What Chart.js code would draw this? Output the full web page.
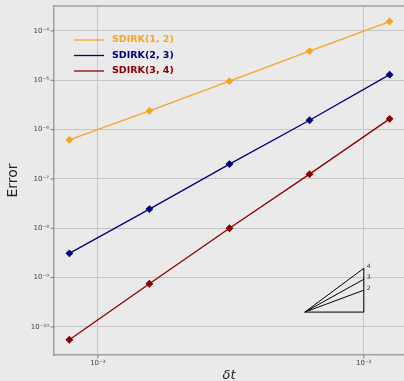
<!DOCTYPE html>
<html><head><meta charset="utf-8">
<script src="https://cdn.jsdelivr.net/npm/chart.js@4/dist/chart.umd.min.js"></script>
<style>html,body{margin:0;padding:0;background:#eaeaea;overflow:hidden}#wrap{width:404px;height:381px;position:relative}</style>
</head><body><div id="wrap"><canvas id="c" width="404" height="381"></canvas></div>
<script>
const dt = [1/1280, 1/640, 1/320, 1/160, 1/80];
const err12 = [6.2e-7, 2.4e-6, 9.6e-6, 3.9e-5, 1.55e-4];
const err23 = [3.1e-9, 2.45e-8, 2.0e-7, 1.55e-6, 1.3e-5];
const err34 = [5.5e-11, 7.5e-10, 1.0e-8, 1.25e-7, 1.65e-6];
const seriesNames = ['SDIRK(1, 2)', 'SDIRK(2, 3)', 'SDIRK(3, 4)'];
const seriesColors = ['#f5a623', '#000080', '#8b0000'];
const xMajorTicks = [1e-3, 1e-2];
const xMajorLabels = ['10\u207B\u00B3', '10\u207B\u00B2'];
const yMajorTicks = [1e-10, 1e-9, 1e-8, 1e-7, 1e-6, 1e-5, 1e-4];
const yMajorLabels = ['10\u207B\u00B9\u2070', '10\u207B\u2079', '10\u207B\u2078', '10\u207B\u2077', '10\u207B\u2076', '10\u207B\u2075', '10\u207B\u2074'];
const triX = [6e-3, 1e-2];
const triBase = 2e-10;
const triOrders = [2, 3, 4];

const FONT = "'DejaVu Sans', sans-serif";
const allSeries = [err12, err23, err34];

const datasets = allSeries.map((s, i) => ({
  label: seriesNames[i],
  data: dt.map((x, k) => ({x: x, y: s[k]})),
  borderColor: seriesColors[i],
  backgroundColor: seriesColors[i],
  borderWidth: 1.3,
  pointStyle: 'rectRot',
  pointRadius: 3,
  pointHoverRadius: 3,
  pointBackgroundColor: seriesColors[i],
  pointBorderColor: seriesColors[i],
  tension: 0
}));
const triTop = p => triBase * Math.pow(triX[1] / triX[0], p);
const triStyle = {borderColor: '#000', borderWidth: 1, pointRadius: 0, tri: true, clip: false};
triOrders.forEach(p => datasets.push(Object.assign({label: 'tri' + p, data: [{x: triX[0], y: triBase}, {x: triX[1], y: triTop(p)}]}, triStyle)));
const maxP = Math.max(...triOrders);
datasets.push(Object.assign({label: 'triV', data: [{x: triX[1], y: triBase}, {x: triX[1], y: triTop(maxP)}]}, triStyle));
datasets.push(Object.assign({label: 'triB', data: [{x: triX[0], y: triBase}, {x: triX[1], y: triBase}]}, triStyle));

function logTicks(min, max) {
  const out = [];
  for (let d = Math.floor(Math.log10(min)); d <= Math.ceil(Math.log10(max)); d++) {
    for (let m = 1; m <= 9; m++) {
      const v = m * Math.pow(10, d);
      if (v >= min && v <= max) out.push({value: v, major: m === 1});
    }
  }
  return out;
}
const isMajor = v => Math.abs(Math.log10(v) - Math.round(Math.log10(v))) < 1e-9;

const framePlugin = {
  id: 'frame',
  afterDraw(chart) {
    const ctx = chart.ctx, a = chart.chartArea;
    ctx.save();
    ctx.strokeStyle = '#a0a0a0'; ctx.lineWidth = 1.5;
    ctx.beginPath(); ctx.moveTo(a.left, a.top); ctx.lineTo(a.right, a.top); ctx.stroke();
    ctx.strokeStyle = '#666'; ctx.lineWidth = 0.8;
    const xs = chart.scales.x, ys = chart.scales.y;
    xs.ticks.forEach(t => {
      const px = xs.getPixelForValue(t.value), L = isMajor(t.value) ? 3.5 : 2;
      ctx.beginPath(); ctx.moveTo(px, a.bottom); ctx.lineTo(px, a.bottom + L); ctx.stroke();
    });
    ys.ticks.forEach(t => {
      const py = ys.getPixelForValue(t.value), L = isMajor(t.value) ? 3.5 : 2;
      ctx.beginPath(); ctx.moveTo(a.left, py); ctx.lineTo(a.left - L, py); ctx.stroke();
    });
    ctx.fillStyle = '#333'; ctx.font = '6px ' + FONT;
    ctx.textAlign = 'left'; ctx.textBaseline = 'middle';
    triOrders.forEach(p => {
      ctx.fillText(String(p), xs.getPixelForValue(triX[1]) + 3, ys.getPixelForValue(triTop(p)) - 2);
    });
    ctx.font = 'bold 9.5px ' + FONT;
    seriesNames.forEach((n, i) => {
      const y = a.top + 34 + i * 15.5;
      ctx.strokeStyle = seriesColors[i]; ctx.lineWidth = 1.3;
      ctx.beginPath(); ctx.moveTo(a.left + 20, y); ctx.lineTo(a.left + 50, y); ctx.stroke();
      ctx.fillStyle = seriesColors[i];
      ctx.fillText(n, a.left + 58, y);
    });
    ctx.restore();
  }
};

new Chart(document.getElementById('c'), {
  type: 'line',
  data: {datasets: datasets},
  plugins: [framePlugin],
  options: {
    responsive: false,
    devicePixelRatio: 1,
    animation: false,
    layout: {autoPadding: false, padding: {top: 6, right: 0, left: 0, bottom: 0}},
    plugins: {legend: {display: false}, tooltip: {enabled: false}},
    scales: {
      x: {
        type: 'logarithmic',
        min: 6.84e-4, max: 0.01416,
        afterBuildTicks: s => { s.ticks = logTicks(s.min, s.max); },
        afterFit: s => { s.height = 26; s.paddingRight = 0; s.paddingLeft = 0; },
        ticks: {
          autoSkip: false, maxRotation: 0, padding: 0,
          color: '#444', font: {size: 7, family: FONT},
          callback: function (v) { const i = xMajorTicks.findIndex(m => Math.abs(m - v) / m < 1e-6); return i >= 0 ? xMajorLabels[i] : undefined; }
        },
        grid: {drawTicks: true, tickLength: 4, tickColor: 'rgba(0,0,0,0)', color: c => (c.tick && isMajor(c.tick.value)) ? '#c6c6c6' : 'rgba(0,0,0,0)', lineWidth: 1},
        border: {display: true, color: '#a0a0a0', width: 1.5},
        title: {display: true, text: 'δt', color: '#222', font: {size: 13, family: FONT, style: 'italic'}, padding: {top: 0, bottom: -2}}
      },
      y: {
        type: 'logarithmic',
        min: 2.7e-11, max: 3.2e-4,
        afterBuildTicks: s => { s.ticks = logTicks(s.min, s.max); },
        afterFit: s => { s.width = 54; s.paddingTop = 0; s.paddingBottom = 0; },
        ticks: {
          autoSkip: false, padding: 5,
          color: '#444', font: {size: 7, family: FONT},
          callback: function (v) { const i = yMajorTicks.findIndex(m => Math.abs(m - v) / m < 1e-6); return i >= 0 ? yMajorLabels[i] : undefined; }
        },
        grid: {drawTicks: false, color: c => (c.tick && isMajor(c.tick.value)) ? '#c6c6c6' : 'rgba(0,0,0,0)', lineWidth: 1},
        border: {display: true, color: '#a0a0a0', width: 1.5},
        title: {display: true, text: 'Error', color: '#222', font: {size: 14, family: FONT}, padding: {top: 5, bottom: 0}}
      }
    }
  }
});
</script></body></html>
